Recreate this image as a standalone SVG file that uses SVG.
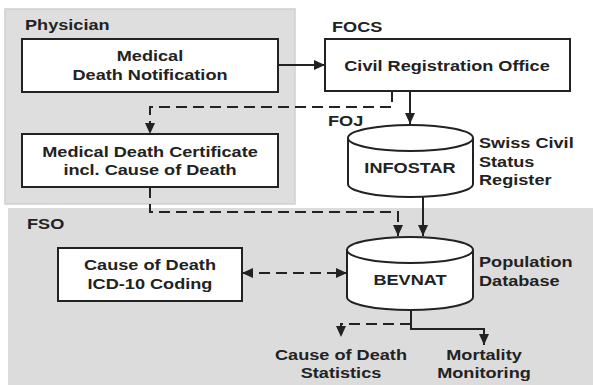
<svg xmlns="http://www.w3.org/2000/svg" width="593" height="385" viewBox="0 0 593 385">
<style>
  .t{font-family:"Liberation Sans",Arial,sans-serif;font-weight:bold;font-size:15.5px;fill:#222}
  .m{text-anchor:middle}
  .box{fill:#fff;stroke:#222;stroke-width:2}
  .cyl{fill:#fff;stroke:#222;stroke-width:2}
  .ln{fill:none;stroke:#222;stroke-width:2}
  .dash{fill:none;stroke:#222;stroke-width:2;stroke-dasharray:11 6}
</style>
<defs>
  <marker id="ah" markerUnits="userSpaceOnUse" markerWidth="11" markerHeight="10" refX="11" refY="5" orient="auto">
    <path d="M0,0 L11,5 L0,10 z" fill="#222"/>
  </marker>
  <marker id="ahs" markerUnits="userSpaceOnUse" markerWidth="11" markerHeight="10" refX="0" refY="5" orient="auto">
    <path d="M11,0 L0,5 L11,10 z" fill="#222"/>
  </marker>
</defs>
<rect width="593" height="385" fill="#fff"/>
<g id="panel-physician">
  <rect x="5" y="9" width="290" height="195" fill="#dedede" stroke="#d0d0d0" stroke-width="1.5"/>
  <text class="t" transform="translate(25,30) scale(1.17,1)">Physician</text>
</g>
<g id="panel-fso">
  <rect x="8" y="208" width="590" height="182" fill="#dcdcdc"/>
  <text class="t" transform="translate(27,229) scale(1.17,1)">FSO</text>
</g>
<g id="label-focs"><text class="t" transform="translate(332,32) scale(1.17,1)">FOCS</text></g>
<g id="label-foj"><text class="t" transform="translate(328,126) scale(1.17,1)">FOJ</text></g>
<g id="connectors">
  <path class="ln" d="M278,65 H325" marker-end="url(#ah)"/>
  <path class="ln" d="M410,91 V124" marker-end="url(#ah)"/>
  <path class="dash" d="M392,91 V107 H150 V134" marker-end="url(#ah)"/>
  <path class="dash" d="M150,187 V212 H398 V236" marker-end="url(#ah)"/>
  <path class="ln" d="M423,197 V236" marker-end="url(#ah)"/>
  <path class="dash" d="M242,273 H347" marker-start="url(#ahs)" marker-end="url(#ah)"/>
  <path class="dash" d="M411,324 H341 V337" marker-end="url(#ah)"/>
  <path class="ln" d="M411,310 V329 H484 V345" marker-end="url(#ah)"/>
</g>
<g id="node-mdn">
  <rect class="box" x="22" y="39" width="256" height="53"/>
  <text class="t m" transform="translate(150,61) scale(1.17,1)">Medical</text>
  <text class="t m" transform="translate(150,80) scale(1.17,1)">Death Notification</text>
</g>
<g id="node-mdc">
  <rect class="box" x="22" y="134" width="256" height="53"/>
  <text class="t m" transform="translate(150,157) scale(1.17,1)">Medical Death Certificate</text>
  <text class="t m" transform="translate(150,175) scale(1.17,1)">incl. Cause of Death</text>
</g>
<g id="node-cro">
  <rect class="box" x="325" y="39" width="245" height="52"/>
  <text class="t m" transform="translate(447,71) scale(1.17,1)">Civil Registration Office</text>
</g>
<g id="node-infostar">
  <path class="cyl" d="M348,138 A62.5,13 0 0 1 473,138 V184 A62.5,13 0 0 1 348,184 Z"/>
  <path class="ln" d="M348,138 A62.5,13 0 0 0 473,138"/>
  <text class="t m" transform="translate(410,173) scale(1.17,1)">INFOSTAR</text>
  <text class="t" transform="translate(479,148) scale(1.17,1)">Swiss Civil</text>
  <text class="t" transform="translate(479,167) scale(1.17,1)">Status</text>
  <text class="t" transform="translate(479,185) scale(1.17,1)">Register</text>
</g>
<g id="node-icd">
  <rect class="box" x="58" y="248" width="184" height="53"/>
  <text class="t m" transform="translate(150,270) scale(1.17,1)">Cause of Death</text>
  <text class="t m" transform="translate(150,289) scale(1.17,1)">ICD-10 Coding</text>
</g>
<g id="node-bevnat">
  <path class="cyl" d="M347,250 A63,13 0 0 1 473,250 V297 A63,13 0 0 1 347,297 Z"/>
  <path class="ln" d="M347,250 A63,13 0 0 0 473,250"/>
  <text class="t m" transform="translate(410,285) scale(1.17,1)">BEVNAT</text>
  <text class="t" transform="translate(479,267) scale(1.17,1)">Population</text>
  <text class="t" transform="translate(479,286) scale(1.17,1)">Database</text>
</g>
<g id="node-stats">
  <text class="t m" transform="translate(341,360) scale(1.17,1)">Cause of Death</text>
  <text class="t m" transform="translate(341,378) scale(1.17,1)">Statistics</text>
</g>
<g id="node-mortality">
  <text class="t m" transform="translate(484,360) scale(1.17,1)">Mortality</text>
  <text class="t m" transform="translate(484,378) scale(1.17,1)">Monitoring</text>
</g>
</svg>
